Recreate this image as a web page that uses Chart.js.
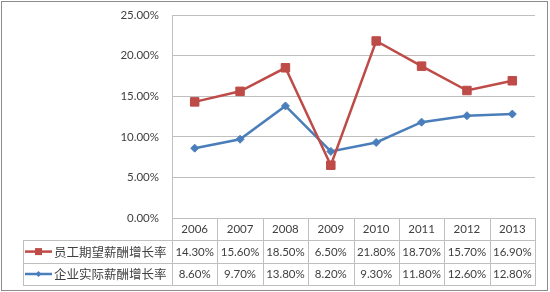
<!DOCTYPE html>
<html>
<head>
<meta charset="utf-8">
<script src="https://cdn.jsdelivr.net/npm/chart.js@4/dist/chart.umd.min.js"></script>
<style>
  html, body { margin: 0; padding: 0; background: #fff; }
  #wrap { width: 550px; height: 292px; }
</style>
</head>
<body>
<div id="wrap"><canvas id="chart"></canvas></div>
<script>
var years = ['2006', '2007', '2008', '2009', '2010', '2011', '2012', '2013'];
var expectName = '员工期望薪酬增长率';
var expectRate = [14.30, 15.60, 18.50, 6.50, 21.80, 18.70, 15.70, 16.90];
var actualName = '企业实际薪酬增长率';
var actualRate = [8.60, 9.70, 13.80, 8.20, 9.30, 11.80, 12.60, 12.80];
var yTicks = [0, 5, 10, 15, 20, 25];

var red = '#BE4B48', blue = '#4A7EBB';
var gridColor = '#bfbfbf';
var textColor = '#404040';

// data table under the plot, drawn from the x scale
var tablePlugin = {
  id: 'table',
  afterDraw: function (chart) {
    var ctx = chart.ctx, xs = chart.scales.x, area = chart.chartArea;
    var colW = (area.right - area.left) / years.length;
    var rowH = 22.4;
    var top = area.bottom, r1 = top + rowH, r2 = r1 + rowH, r3 = r2 + rowH;
    var left = 23;
    ctx.save();
    ctx.strokeStyle = gridColor;
    ctx.lineWidth = 1;
    ctx.beginPath();
    [r1, r2, r3].forEach(function (y) {
      ctx.moveTo(left, Math.round(y) + 0.5);
      ctx.lineTo(area.right, Math.round(y) + 0.5);
    });
    ctx.moveTo(left + 0.5, Math.round(r1));
    ctx.lineTo(left + 0.5, Math.round(r3));
    for (var i = 0; i <= years.length; i++) {
      var x = Math.round(area.left + i * colW) + 0.5;
      ctx.moveTo(x, top);
      ctx.lineTo(x, Math.round(r3) + 1);
    }
    ctx.stroke();

    ctx.fillStyle = textColor;
    ctx.textAlign = 'center';
    ctx.textBaseline = 'middle';
    ctx.font = '11.5px Lato';
    years.forEach(function (y, i) {
      var cx = xs.getPixelForValue(i);
      ctx.fillText(y, cx, top + rowH / 2 + 0.5);
      ctx.fillText(expectRate[i].toFixed(2) + '%', cx, r1 + rowH / 2 + 0.5);
      ctx.fillText(actualRate[i].toFixed(2) + '%', cx, r2 + rowH / 2 + 0.5);
    });

    // legend keys
    ctx.textAlign = 'left';
    ctx.font = '12.5px "Noto Sans CJK SC"';
    ctx.fillText(expectName, 54, r1 + rowH / 2 + 0.5);
    ctx.fillText(actualName, 54, r2 + rowH / 2 + 0.5);
    ctx.lineWidth = 2.5;
    var ky1 = r1 + rowH / 2, ky2 = r2 + rowH / 2;
    ctx.strokeStyle = red;
    ctx.beginPath(); ctx.moveTo(25, ky1); ctx.lineTo(52, ky1); ctx.stroke();
    ctx.fillStyle = red;
    ctx.fillRect(35, ky1 - 3.5, 7, 7);
    ctx.strokeStyle = blue;
    ctx.beginPath(); ctx.moveTo(25, ky2); ctx.lineTo(52, ky2); ctx.stroke();
    ctx.fillStyle = blue;
    ctx.beginPath();
    ctx.moveTo(38.5, ky2 - 3); ctx.lineTo(41.5, ky2); ctx.lineTo(38.5, ky2 + 3); ctx.lineTo(35.5, ky2);
    ctx.closePath(); ctx.fill();

    // outer frame
    ctx.strokeStyle = '#8c8c8c';
    ctx.lineWidth = 1;
    ctx.strokeRect(1.5, 1.5, 546, 289);
    ctx.restore();
  }
};

new Chart(document.getElementById('chart'), {
  type: 'line',
  data: {
    labels: years,
    datasets: [{
      label: expectName,
      data: expectRate,
      borderColor: red,
      backgroundColor: red,
      borderWidth: 2.5,
      pointStyle: 'rect',
      pointRadius: 6,
      pointBorderWidth: 1,
      pointBackgroundColor: red,
      pointBorderColor: red,
      tension: 0
    }, {
      label: actualName,
      data: actualRate,
      borderColor: blue,
      backgroundColor: blue,
      borderWidth: 2.5,
      pointStyle: 'rectRot',
      pointRadius: 4,
      pointBorderWidth: 1,
      pointBackgroundColor: blue,
      pointBorderColor: blue,
      tension: 0
    }]
  },
  options: {
    responsive: true,
    maintainAspectRatio: false,
    animation: false,
    layout: { padding: { top: 15, right: 15, bottom: 74, left: 0 } },
    plugins: { legend: { display: false }, tooltip: { enabled: false } },
    scales: {
      x: { display: false, offset: true },
      y: {
        min: 0, max: 25,
        afterFit: function (scale) {
          scale.width = 172;
          scale.paddingTop = 0;
          scale.paddingBottom = 0;
        },
        afterBuildTicks: function (scale) {
          scale.ticks = yTicks.map(function (v) { return { value: v }; });
        },
        grid: { color: gridColor, drawTicks: false },
        border: { display: true, color: gridColor },
        ticks: {
          padding: 13,
          color: textColor,
          font: { family: 'Lato', size: 11.5 },
          callback: function (v) { return v.toFixed(2) + '%'; }
        }
      }
    }
  },
  plugins: [tablePlugin]
});
</script>
</body>
</html>
